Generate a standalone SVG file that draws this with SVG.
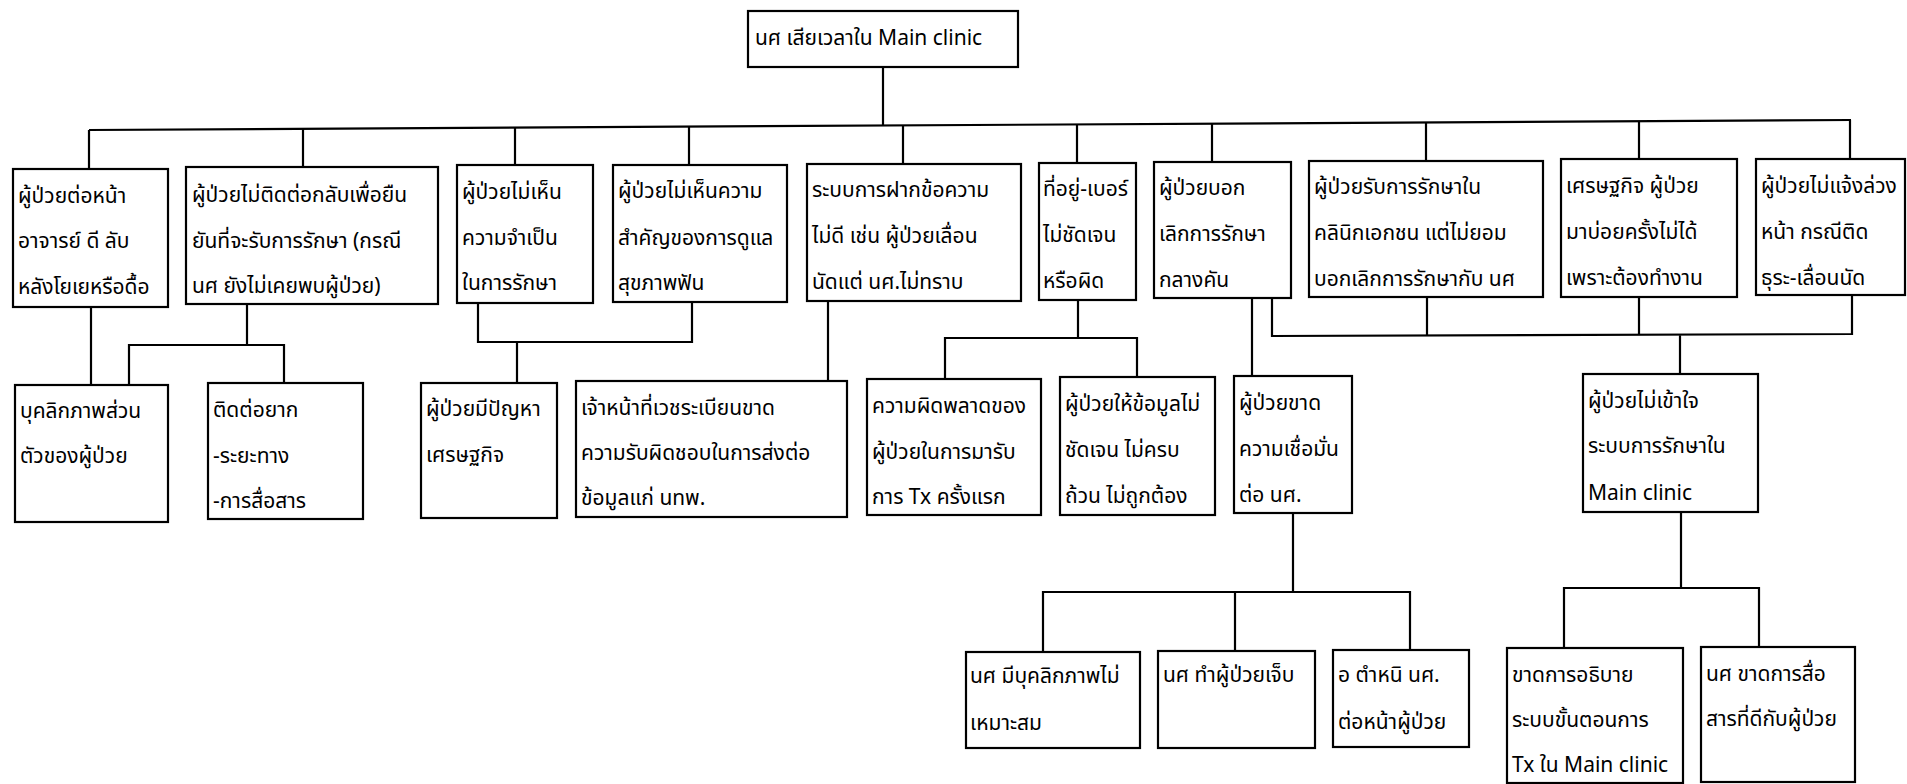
<svg xmlns="http://www.w3.org/2000/svg" width="1907" height="784" viewBox="0 0 1907 784">
<style>
.box{fill:#fff;stroke:#000;stroke-width:2.2}
.t{font-family:"Noto Sans Thai","Noto Sans","DejaVu Sans",sans-serif;font-size:21px;fill:#000}
.c{stroke:#000;stroke-width:2.2;fill:none}
</style>
<rect width="1907" height="784" fill="#fff"/>
<g id="connectors">
<path class="c" d="M883,67V126"/>
<path class="c" d="M89,130L1851,120"/>
<path class="c" d="M89,130V169M303,129V167M515,128V165M689,127V165M903,125V164M1077,124V163M1212,123V162M1426,122V161M1639,121V159M1850,120V159"/>
<path class="c" d="M91,307V385"/>
<path class="c" d="M247,304V345M129,385V345H284V383"/>
<path class="c" d="M478,303V342H692V302M517,342V383"/>
<path class="c" d="M828,301V381"/>
<path class="c" d="M1078,300V338M945,379V338H1137V377"/>
<path class="c" d="M1252,298V376"/>
<path class="c" d="M1272,298V336L1852,334V295M1427,297V336M1639,297V335M1680,335V374"/>
<path class="c" d="M1293,513V592M1043,652V592H1410V650M1235,592V651"/>
<path class="c" d="M1681,512V588M1564,648V588H1759V647"/>
</g>
<g id="n0"><rect class="box" x="748" y="11" width="270" height="56"/><text class="t" x="755" y="45">นศ เสียเวลาใน Main clinic</text></g>
<g id="n1"><rect class="box" x="13" y="169" width="155" height="138"/><text class="t" x="18" y="203">ผู้ป่วยต่อหน้า</text><text class="t" x="18" y="248">อาจารย์ ดี ลับ</text><text class="t" x="18" y="294">หลังโยเยหรือดื้อ</text></g>
<g id="n2"><rect class="box" x="186" y="167" width="252" height="137"/><text class="t" x="192" y="202">ผู้ป่วยไม่ติดต่อกลับเพื่อยืน</text><text class="t" x="192" y="248">ยันที่จะรับการรักษา (กรณี</text><text class="t" x="192" y="293">นศ ยังไม่เคยพบผู้ป่วย)</text></g>
<g id="n3"><rect class="box" x="457" y="165" width="136" height="138"/><text class="t" x="462" y="199">ผู้ป่วยไม่เห็น</text><text class="t" x="462" y="245">ความจำเป็น</text><text class="t" x="462" y="290">ในการรักษา</text></g>
<g id="n4"><rect class="box" x="613" y="165" width="174" height="137"/><text class="t" x="618" y="198">ผู้ป่วยไม่เห็นความ</text><text class="t" x="618" y="245">สำคัญของการดูแล</text><text class="t" x="618" y="290">สุขภาพฟัน</text></g>
<g id="n5"><rect class="box" x="807" y="164" width="214" height="137"/><text class="t" x="812" y="197">ระบบการฝากข้อความ</text><text class="t" x="812" y="243">ไม่ดี เช่น ผู้ป่วยเลื่อน</text><text class="t" x="812" y="289">นัดแต่ นศ.ไม่ทราบ</text></g>
<g id="n6"><rect class="box" x="1039" y="163" width="97" height="137"/><text class="t" x="1043" y="196">ที่อยู่-เบอร์</text><text class="t" x="1043" y="242">ไม่ชัดเจน</text><text class="t" x="1043" y="288">หรือผิด</text></g>
<g id="n7"><rect class="box" x="1154" y="162" width="137" height="136"/><text class="t" x="1159" y="195">ผู้ป่วยบอก</text><text class="t" x="1159" y="241">เลิกการรักษา</text><text class="t" x="1159" y="287">กลางคัน</text></g>
<g id="n8"><rect class="box" x="1309" y="161" width="234" height="136"/><text class="t" x="1314" y="194">ผู้ป่วยรับการรักษาใน</text><text class="t" x="1314" y="240">คลินิกเอกชน แต่ไม่ยอม</text><text class="t" x="1314" y="286">บอกเลิกการรักษากับ นศ</text></g>
<g id="n9"><rect class="box" x="1561" y="159" width="176" height="138"/><text class="t" x="1566" y="193">เศรษฐกิจ ผู้ป่วย</text><text class="t" x="1566" y="239">มาบ่อยครั้งไม่ได้</text><text class="t" x="1566" y="285">เพราะต้องทำงาน</text></g>
<g id="n10"><rect class="box" x="1756" y="159" width="149" height="136"/><text class="t" x="1761" y="193">ผู้ป่วยไม่แจ้งล่วง</text><text class="t" x="1761" y="239">หน้า กรณีติด</text><text class="t" x="1761" y="285">ธุระ-เลื่อนนัด</text></g>
<g id="n11"><rect class="box" x="15" y="385" width="153" height="137"/><text class="t" x="20" y="418">บุคลิกภาพส่วน</text><text class="t" x="20" y="463">ตัวของผู้ป่วย</text></g>
<g id="n12"><rect class="box" x="208" y="383" width="155" height="136"/><text class="t" x="213" y="417">ติดต่อยาก</text><text class="t" x="213" y="463">-ระยะทาง</text><text class="t" x="213" y="508">-การสื่อสาร</text></g>
<g id="n13"><rect class="box" x="421" y="383" width="136" height="135"/><text class="t" x="426" y="416">ผู้ป่วยมีปัญหา</text><text class="t" x="426" y="462">เศรษฐกิจ</text></g>
<g id="n14"><rect class="box" x="576" y="381" width="271" height="136"/><text class="t" x="581" y="415">เจ้าหน้าที่เวชระเบียนขาด</text><text class="t" x="581" y="460">ความรับผิดชอบในการส่งต่อ</text><text class="t" x="581" y="505">ข้อมูลแก่ นทพ.</text></g>
<g id="n15"><rect class="box" x="867" y="379" width="174" height="136"/><text class="t" x="872" y="413">ความผิดพลาดของ</text><text class="t" x="872" y="459">ผู้ป่วยในการมารับ</text><text class="t" x="872" y="504">การ Tx ครั้งแรก</text></g>
<g id="n16"><rect class="box" x="1060" y="377" width="155" height="138"/><text class="t" x="1065" y="411">ผู้ป่วยให้ข้อมูลไม่</text><text class="t" x="1065" y="457">ชัดเจน ไม่ครบ</text><text class="t" x="1065" y="503">ถ้วน ไม่ถูกต้อง</text></g>
<g id="n17"><rect class="box" x="1234" y="376" width="118" height="137"/><text class="t" x="1239" y="410">ผู้ป่วยขาด</text><text class="t" x="1239" y="456">ความเชื่อมั่น</text><text class="t" x="1239" y="502">ต่อ นศ.</text></g>
<g id="n18"><rect class="box" x="1583" y="374" width="175" height="138"/><text class="t" x="1588" y="408">ผู้ป่วยไม่เข้าใจ</text><text class="t" x="1588" y="453">ระบบการรักษาใน</text><text class="t" x="1588" y="500">Main clinic</text></g>
<g id="n19"><rect class="box" x="966" y="652" width="174" height="96"/><text class="t" x="970" y="683">นศ มีบุคลิกภาพไม่</text><text class="t" x="970" y="730">เหมาะสม</text></g>
<g id="n20"><rect class="box" x="1158" y="651" width="157" height="97"/><text class="t" x="1163" y="682">นศ ทำผู้ป่วยเจ็บ</text></g>
<g id="n21"><rect class="box" x="1333" y="650" width="136" height="97"/><text class="t" x="1338" y="682">อ ตำหนิ นศ.</text><text class="t" x="1338" y="729">ต่อหน้าผู้ป่วย</text></g>
<g id="n22"><rect class="box" x="1507" y="648" width="176" height="135"/><text class="t" x="1512" y="682">ขาดการอธิบาย</text><text class="t" x="1512" y="727">ระบบขั้นตอนการ</text><text class="t" x="1512" y="772">Tx ใน Main clinic</text></g>
<g id="n23"><rect class="box" x="1701" y="647" width="154" height="135"/><text class="t" x="1706" y="681">นศ ขาดการสื่อ</text><text class="t" x="1706" y="726">สารที่ดีกับผู้ป่วย</text></g>
</svg>
